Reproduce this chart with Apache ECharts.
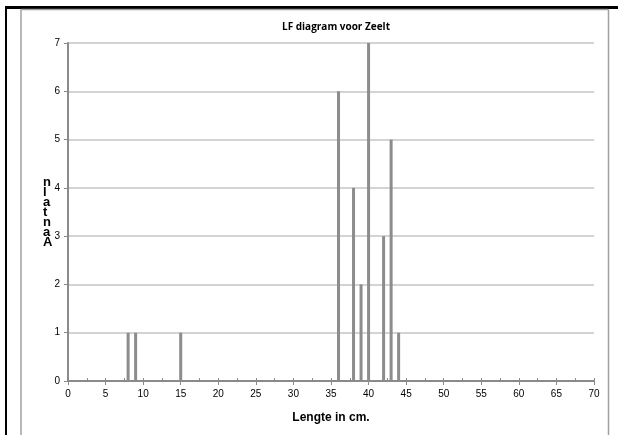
<!DOCTYPE html>
<html>
<head>
<meta charset="utf-8">
<script src="https://cdn.jsdelivr.net/npm/echarts@6/dist/echarts.min.js"></script>
<style>html,body{margin:0;padding:0;background:#fff}#c{width:618px;height:435px}</style>
</head>
<body>
<div id="c"></div>
<script>
var lengths = [8, 9, 15, 36, 38, 39, 40, 42, 43, 44];
var counts  = [1, 1, 1, 6, 4, 2, 7, 3, 5, 1];
var titleText = 'LF diagram voor Zeelt';
var xName = 'Lengte in cm.';
var yLabelRows = ['n', 'l', 'a', 't', 'n', 'a', 'A'];

var chart = echarts.init(document.getElementById('c'), null, {renderer: 'canvas'});
var data = lengths.map(function (l, i) { return [l, counts[i]]; });
var font = 'Liberation Sans, Arial, sans-serif';
chart.setOption({
  animation: false,
  title: {
    text: titleText, left: 331, top: 17, textAlign: 'center',
    textStyle: {fontSize: 10, fontWeight: 'bold', color: '#000', fontFamily: 'Open Sans, Liberation Sans, sans-serif'}
  },
  grid: {left: 68, right: 24, top: 43, bottom: 54, containLabel: false},
  xAxis: [{
    type: 'value', min: 0, max: 70, interval: 5,
    name: xName, nameLocation: 'middle', nameGap: 31,
    nameTextStyle: {fontSize: 12, fontWeight: 'bold', color: '#000', fontFamily: font},
    axisLine: {show: true, lineStyle: {color: '#8a8a8a', width: 2}},
    axisTick: {show: true, length: 4, lineStyle: {color: '#8a8a8a', width: 1}},
    axisLabel: {fontSize: 10, color: '#000', margin: 8, fontFamily: font},
    splitLine: {show: false}
  }, {
    type: 'value', min: 0, max: 70, interval: 2.5, position: 'bottom',
    axisLine: {show: false},
    axisTick: {show: true, inside: true, length: 3, lineStyle: {color: '#8a8a8a', width: 1}},
    axisLabel: {show: false},
    splitLine: {show: false}
  }],
  yAxis: {
    type: 'value', min: 0, max: 7, interval: 1,
    axisLine: {show: true, lineStyle: {color: '#8a8a8a', width: 2}},
    axisTick: {show: true, length: 4, lineStyle: {color: '#8a8a8a', width: 1}},
    axisLabel: {fontSize: 10, color: '#000', margin: 8, fontFamily: font},
    splitLine: {show: true, lineStyle: {color: '#c4c4c4', width: 1.5}}
  },
  series: [{
    type: 'bar', xAxisIndex: 0, data: data, barWidth: 3,
    itemStyle: {color: '#8c8c8c'}
  }],
  graphic: [
    {type: 'line', shape: {x1: 5, y1: 7.5, x2: 618, y2: 7.5}, style: {stroke: '#000', lineWidth: 3}},
    {type: 'line', shape: {x1: 6, y1: 6, x2: 6, y2: 435}, style: {stroke: '#000', lineWidth: 2}},
    {type: 'line', shape: {x1: 21, y1: 9.5, x2: 608.5, y2: 9.5}, style: {stroke: '#a0a0a0', lineWidth: 1.5}},
    {type: 'line', shape: {x1: 21, y1: 9.5, x2: 21, y2: 435}, style: {stroke: '#a0a0a0', lineWidth: 1.5}},
    {type: 'line', shape: {x1: 608.5, y1: 9.5, x2: 608.5, y2: 435}, style: {stroke: '#a0a0a0', lineWidth: 1.5}},
    {type: 'text', left: 43, top: 176, style: {
      text: yLabelRows.join('\n'), fontSize: 13, fontWeight: 'bold', lineHeight: 10,
      fill: '#000', fontFamily: font, align: 'center'
    }}
  ]
});
</script>
</body>
</html>
